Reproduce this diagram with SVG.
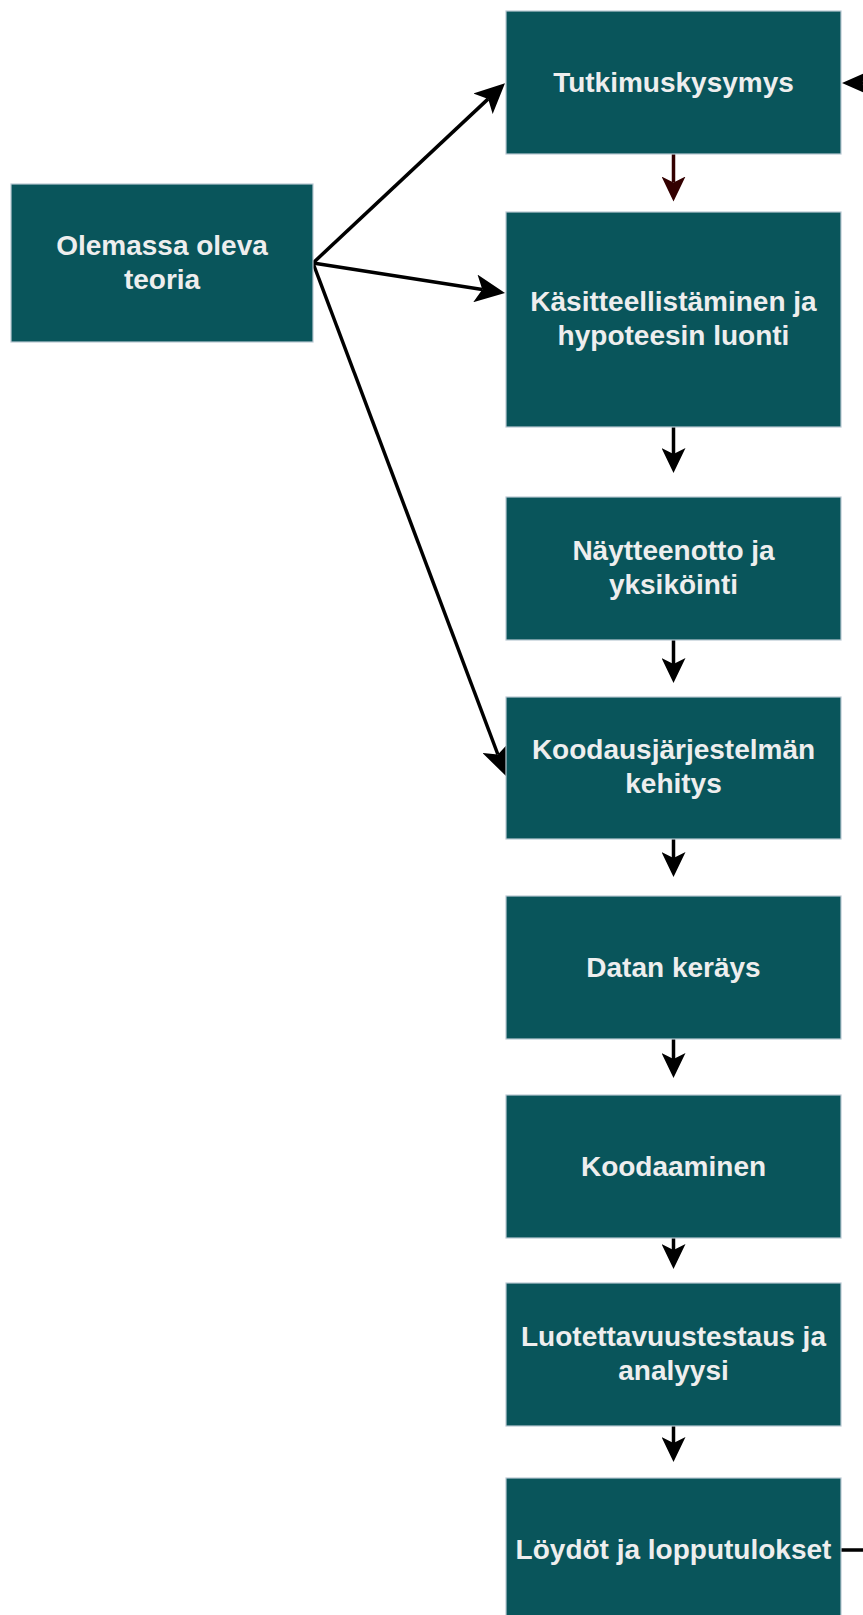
<svg xmlns="http://www.w3.org/2000/svg" width="863" height="1615" viewBox="0 0 863 1615">
<style>
.box{fill:#09555B;stroke:#BAC8D3;stroke-width:1.2}
.lbl{font-family:"Liberation Sans",Arial,sans-serif;font-weight:bold;font-size:28px;fill:#EEEEEE;text-anchor:middle}
.edge{fill:none;stroke:#000;stroke-width:3.5}
</style>
<defs>
<marker id="av" markerUnits="userSpaceOnUse" viewBox="0 0 25 24" markerWidth="25" markerHeight="24" refX="6" refY="12" orient="auto"><path d="M0,0 L25,12 L0,24 L6,12 Z" fill="#000"/></marker>
<marker id="avr" markerUnits="userSpaceOnUse" viewBox="0 0 25 24" markerWidth="25" markerHeight="24" refX="6" refY="12" orient="auto"><path d="M0,0 L25,12 L0,24 L6,12 Z" fill="#330000"/></marker>
<marker id="ad" markerUnits="userSpaceOnUse" viewBox="0 0 30 28" markerWidth="30" markerHeight="28" refX="7" refY="14" orient="auto"><path d="M0,0 L30,14 L0,28 L7,14 Z" fill="#000"/></marker>
<marker id="as" markerUnits="userSpaceOnUse" viewBox="0 0 25 22" markerWidth="25" markerHeight="22" refX="5" refY="11" orient="auto"><path d="M0,0 L25,11 L0,22 L5,11 Z" fill="#000"/></marker>
</defs>
<g id="connectors">
<line x1="313" y1="263" x2="488.2" y2="98.9" class="edge" marker-end="url(#ad)"/>
<line x1="313" y1="263" x2="482.3" y2="289.5" class="edge" marker-end="url(#ad)"/>
<line x1="313" y1="263" x2="497.9" y2="754.5" class="edge" marker-end="url(#ad)"/>
<line x1="673.5" y1="154" x2="673.5" y2="182.5" class="edge" style="stroke:#330000" marker-end="url(#avr)"/>
<line x1="673.5" y1="427" x2="673.5" y2="454" class="edge" marker-end="url(#av)"/>
<line x1="673.5" y1="640" x2="673.5" y2="664" class="edge" marker-end="url(#av)"/>
<line x1="673.5" y1="839" x2="673.5" y2="858" class="edge" marker-end="url(#av)"/>
<line x1="673.5" y1="1039" x2="673.5" y2="1059" class="edge" marker-end="url(#av)"/>
<line x1="673.5" y1="1238" x2="673.5" y2="1250" class="edge" marker-end="url(#av)"/>
<line x1="673.5" y1="1426" x2="673.5" y2="1443" class="edge" marker-end="url(#av)"/>
<path d="M841,1550 H890 V83 H862" class="edge" marker-end="url(#as)"/>
</g>
<g id="n-tutkimuskysymys"><rect class="box" x="506" y="11" width="335" height="143"/><text class="lbl" x="673.5" y="91.5">Tutkimuskysymys</text></g>
<g id="n-olemassa"><rect class="box" x="11" y="184" width="302" height="158"/><text class="lbl" x="162" y="255">Olemassa oleva</text><text class="lbl" x="162" y="289">teoria</text></g>
<g id="n-kasitteellistaminen"><rect class="box" x="506" y="212" width="335" height="215"/><text class="lbl" x="673.5" y="311">Käsitteellistäminen ja</text><text class="lbl" x="673.5" y="345">hypoteesin luonti</text></g>
<g id="n-naytteenotto"><rect class="box" x="506" y="497" width="335" height="143"/><text class="lbl" x="673.5" y="560">Näytteenotto ja</text><text class="lbl" x="673.5" y="594">yksiköinti</text></g>
<g id="n-koodausjarjestelma"><rect class="box" x="506" y="697" width="335" height="142"/><text class="lbl" x="673.5" y="759">Koodausjärjestelmän</text><text class="lbl" x="673.5" y="793">kehitys</text></g>
<g id="n-datan"><rect class="box" x="506" y="896" width="335" height="143"/><text class="lbl" x="673.5" y="976.5">Datan keräys</text></g>
<g id="n-koodaaminen"><rect class="box" x="506" y="1095" width="335" height="143"/><text class="lbl" x="673.5" y="1175.5">Koodaaminen</text></g>
<g id="n-luotettavuus"><rect class="box" x="506" y="1283" width="335" height="143"/><text class="lbl" x="673.5" y="1346">Luotettavuustestaus ja</text><text class="lbl" x="673.5" y="1380">analyysi</text></g>
<g id="n-loydot"><rect class="box" x="506" y="1478" width="335" height="143"/><text class="lbl" x="673.5" y="1558.5">Löydöt ja lopputulokset</text></g>
</svg>
